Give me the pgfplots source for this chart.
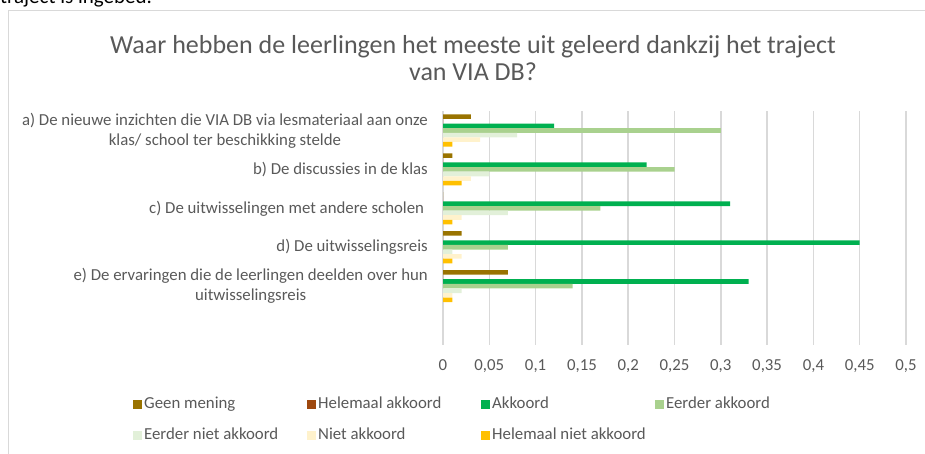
\documentclass[border=0pt]{standalone}
\usepackage{fontspec}
\setmainfont{Carlito}
\usepackage{pgfplots}
\pgfplotsset{compat=1.18}
\definecolor{txt}{HTML}{595959}
\definecolor{geen}{HTML}{997300}
\definecolor{helak}{HTML}{9E480E}
\definecolor{akk}{HTML}{00B050}
\definecolor{eak}{HTML}{A9D18E}
\definecolor{enak}{HTML}{E2F0D9}
\definecolor{nak}{HTML}{FFF2CC}
\definecolor{hnak}{HTML}{FFC000}
\begin{document}
\begin{tikzpicture}[x=1pt,y=1pt]
\useasboundingbox (0,0) rectangle (925,-453);
\clip (0,0) rectangle (925,-453);
% cut-off line of the surrounding document
\node[anchor=base west, inner sep=0pt, font=\fontsize{21}{26}\selectfont] at (0,-3) {traject is ingebed.};
% chart frame
\draw[black!15, line width=1pt] (8.5,-10) rectangle (960,-480);
% title
\node[align=center, text=txt, font=\fontsize{26}{27}\selectfont] at (473,-58)
  {Waar hebben de leerlingen het meeste uit geleerd dankzij het traject\\van VIA DB?};
\begin{axis}[
  at={(443pt,-111pt)}, anchor=north west,
  scale only axis, width=463pt, height=233.5pt,
  xbar=0pt, bar width=0.118,
  y dir=reverse,
  xmin=0, xmax=0.5, ymin=-0.5, ymax=5.5,
  axis line style={draw=none},
  major tick length=0pt,
  xmajorgrids, grid style={draw=black!15, line width=1.5pt},
  xtick={0,0.05,0.1,0.15,0.2,0.25,0.3,0.35,0.4,0.45,0.5},
  xticklabels={0,{0,05},{0,1},{0,15},{0,2},{0,25},{0,3},{0,35},{0,4},{0,45},{0,5}},
  xticklabel style={text=txt, font=\fontsize{16.8}{19}\selectfont, inner sep=0pt, anchor=north, yshift=-15pt},
  ytick={0,1,2,3,4},
  yticklabels={{a) De nieuwe inzichten die VIA DB via lesmateriaal aan onze\\klas/ school ter beschikking stelde},
    {b) De discussies in de klas},
    {c) De uitwisselingen met andere scholen\ },
    {d) De uitwisselingsreis},
    {e) De ervaringen die de leerlingen deelden over hun\\uitwisselingsreis}},
  yticklabel style={text=txt, align=center, font=\fontsize{16.8}{20}\selectfont, inner sep=0pt, xshift=-15pt},
  every axis plot/.append style={draw=none},
  legend columns=4,
  legend cell align=left,
  legend style={at={(axis description cs:-0.6695,-0.227)}, anchor=north west,
    draw=none, inner sep=0pt, row sep=17pt,
    font=\fontsize{16.8}{19}\selectfont, text=txt,
    nodes={inner sep=0pt, text height=11pt, text depth=3pt},
    /tikz/every odd column/.style={column sep=2pt}},
  legend image code/.code={\fill[#1] (0pt,-4pt) rectangle (9pt,5pt);},
]
\addplot[fill=geen] coordinates {(0.03,0) (0.01,1) (0,2) (0.02,3) (0.07,4)};
\addlegendentry{\makebox[163pt][l]{Geen mening}}
\addplot[fill=helak] coordinates {(0,0) (0,1) (0,2) (0,3) (0,4)};
\addlegendentry{\makebox[163pt][l]{Helemaal akkoord}}
\addplot[fill=akk] coordinates {(0.12,0) (0.22,1) (0.31,2) (0.45,3) (0.33,4)};
\addlegendentry{\makebox[163pt][l]{Akkoord}}
\addplot[fill=eak] coordinates {(0.30,0) (0.25,1) (0.17,2) (0.07,3) (0.14,4)};
\addlegendentry{Eerder akkoord}
\addplot[fill=enak] coordinates {(0.08,0) (0.05,1) (0.07,2) (0.01,3) (0.02,4)};
\addlegendentry{\makebox[163pt][l]{Eerder niet akkoord}}
\addplot[fill=nak] coordinates {(0.04,0) (0.03,1) (0.02,2) (0.02,3) (0.01,4)};
\addlegendentry{\makebox[163pt][l]{Niet akkoord}}
\addplot[fill=hnak] coordinates {(0.01,0) (0.02,1) (0.01,2) (0.01,3) (0.01,4)};
\addlegendentry{\makebox[163pt][l]{Helemaal niet akkoord}}
\end{axis}
\end{tikzpicture}
\end{document}
